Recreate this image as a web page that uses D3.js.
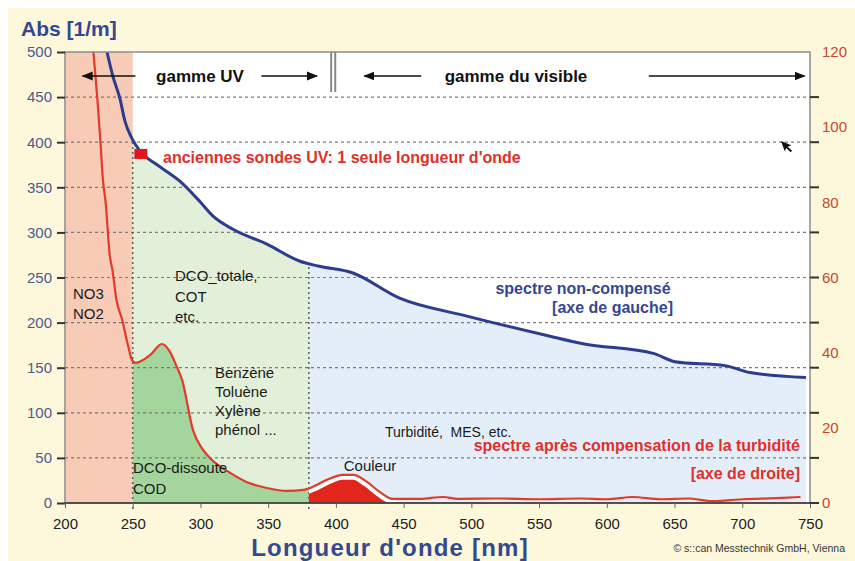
<!DOCTYPE html>
<html><head><meta charset="utf-8">
<script src="https://cdn.jsdelivr.net/npm/d3@7"></script>
<style>
html,body{margin:0;padding:0;background:#fff;}
svg{display:block;font-family:"Liberation Sans",Arial,Helvetica,sans-serif;}
</style></head>
<body>
<svg id="chart" width="855" height="561"></svg>
<script>
// ---- data ----
const xTicks = [200,250,300,350,400,450,500,550,600,650,700,750];
const leftTicks = [0,50,100,150,200,250,300,350,400,450,500];
const rightTicks = [0,20,40,60,80,100,120];
const gridValues = [50,100,150,200,250,300,350,400,450];
const zones = [200,250,380,750]; // nm boundaries: NO3 zone, DCO zone, visible zone
// uncompensated spectrum (left axis, Abs 1/m)
const blueNm  = [231,235,240.6,244.3,249.5,255.4,268,285,299.7,309.3,324,349,373.5,386.8,412.6,446.6,496,556.6,582.4,634.9,650.4,687.3,705.7,747];
const blueAbs = [500,475,448,423,404,390,375,356.5,334,318,303.5,287,268,262.7,255,227.4,207.5,185.4,176.6,165.6,156.7,152.3,144.6,139];
// compensated spectrum (right axis)
const redNm  = [221,224,226,228,230,233,235,238,242,246.5,249.5,252,263,271.5,277.5,282,286.5,294.5,301,307,322,334,349,364,376,383,393,405,413,423,432.5,442,462,479,490,520,550,580,600,619,640,660,678,700,725,743];
const redVal = [120,107,97,86,80,66,62,54,49,42,38,37.3,39.4,42.3,40.2,36.7,32.7,19.4,14.6,12,8,5.6,4,3.2,3.5,4.3,6.1,7.5,7.5,5.6,2.9,1.1,1.1,1.6,1.1,1.2,1.0,1.2,1.0,1.6,1.0,1.2,0.5,1.0,1.3,1.6];
const couleurRange = [380,445];
const oldProbe = {nm:256, abs:387};

const blue = blueNm.map((n,i)=>({nm:n,v:blueAbs[i]}));
const red = redNm.map((n,i)=>({nm:n,v:redVal[i]}));

// ---- layout ----
const svg = d3.select("#chart");
const W=855,H=561;
const L=65,R=810,T=52,B=503;
const x = d3.scaleLinear().domain([200,750]).range([L,R]);
const yL = d3.scaleLinear().domain([0,500]).range([B,T]);
const yR = d3.scaleLinear().domain([0,120]).range([B,T]);

const font = '"Liberation Sans",Arial,Helvetica,sans-serif';
// background
svg.append("rect").attr("x",0).attr("y",0).attr("width",W).attr("height",H).attr("fill","#fff");
svg.append("rect").attr("x",8).attr("y",8).attr("width",W-8).attr("height",H-8).attr("fill","#fdf8dc");
svg.append("rect").attr("x",L).attr("y",T).attr("width",R-L).attr("height",B-T).attr("fill","#fff");

const defs = svg.append("defs");
function clipX(id,a,b){
  defs.append("clipPath").attr("id",id).append("rect")
    .attr("x",x(a)).attr("y",T).attr("width",x(b)-x(a)).attr("height",B-T);
}
clipX("cPlot",200,750);
clipX("cDCO",zones[1],zones[2]);
clipX("cVis",zones[2],zones[3]);
clipX("cCol",couleurRange[0],couleurRange[1]);

defs.append("marker").attr("id","ah").attr("viewBox","0 0 10 10").attr("refX",9).attr("refY",5)
  .attr("markerWidth",7).attr("markerHeight",7).attr("orient","auto-start-reverse")
  .append("path").attr("d","M0,1 L10,5 L0,9 Z").attr("fill","#111");

const g = svg.append("g");

// pink zone
g.append("rect").attr("x",x(zones[0])).attr("y",T).attr("width",x(zones[1])-x(zones[0])).attr("height",B-T).attr("fill","#f7cbb6");

const areaBlue = d3.area().x(d=>x(d.nm)).y0(B).y1(d=>yL(d.v)).curve(d3.curveMonotoneX);
const areaRed = d3.area().x(d=>x(d.nm)).y0(B).y1(d=>yR(d.v)).curve(d3.curveMonotoneX);
const lineBlue = d3.line().x(d=>x(d.nm)).y(d=>yL(d.v)).curve(d3.curveMonotoneX);
const lineRed = d3.line().x(d=>x(d.nm)).y(d=>yR(d.v)).curve(d3.curveMonotoneX);

// clip: region under the red curve
defs.append("clipPath").attr("id","cUnder").append("path").datum(red).attr("d",areaRed);

g.append("path").datum(blue).attr("d",areaBlue).attr("fill","#e3f0d9").attr("clip-path","url(#cDCO)");
g.append("path").datum(blue).attr("d",areaBlue).attr("fill","#e4eef9").attr("clip-path","url(#cVis)");
g.append("path").datum(red).attr("d",areaRed).attr("fill","#a3d59d").attr("clip-path","url(#cDCO)");
g.append("path").datum(red).attr("d",areaRed).attr("fill","#e2261c").attr("clip-path","url(#cCol)");

// gridlines
g.selectAll(".grid").data(gridValues).enter().append("line")
  .attr("x1",L).attr("x2",R).attr("y1",d=>yL(d)).attr("y2",d=>yL(d))
  .attr("stroke","#7a7a7a").attr("stroke-width",1.2).attr("stroke-dasharray","3,3");

// vertical dotted zone boundaries up to the blue curve
const interp = (nm)=>{ const i=d3.bisector(d=>d.nm).left(blue,nm); const a=blue[i-1],b=blue[i]; return a.v+(b.v-a.v)*(nm-a.nm)/(b.nm-a.nm); };
[zones[1],zones[2]].forEach(z=>{
  g.append("line").attr("x1",x(z)).attr("x2",x(z)).attr("y1",B+6).attr("y2",yL(interp(z)))
   .attr("stroke","#666").attr("stroke-width",1.6).attr("stroke-dasharray","2,3");
});

// curves
g.append("g").attr("clip-path","url(#cCol)").append("path").datum(red).attr("d",lineRed)
  .attr("fill","none").attr("stroke","#fff").attr("stroke-width",10).attr("clip-path","url(#cUnder)");
g.append("path").datum(red).attr("d",lineRed).attr("fill","none").attr("stroke","#e23a2b").attr("stroke-width",2.2).attr("clip-path","url(#cPlot)");
g.append("path").datum(blue).attr("d",lineBlue).attr("fill","none").attr("stroke","#2c3d8e").attr("stroke-width",3).attr("clip-path","url(#cPlot)");

// old probe marker
g.append("rect").attr("x",x(oldProbe.nm)-6.5).attr("y",yL(oldProbe.abs)-5).attr("width",13).attr("height",10).attr("fill","#e2161c");

// frame
svg.append("rect").attr("x",L).attr("y",T).attr("width",R-L).attr("height",B-T).attr("fill","none").attr("stroke","#8c8c8c").attr("stroke-width",1.5);
svg.append("line").attr("x1",L).attr("x2",R).attr("y1",B).attr("y2",B).attr("stroke","#333").attr("stroke-width",1.5);

// axes
const axL = svg.append("g").attr("transform",`translate(${L},0)`)
  .call(d3.axisLeft(yL).tickValues(leftTicks).tickSize(8).tickPadding(5));
axL.select(".domain").remove();
axL.selectAll("line").attr("stroke","#333").attr("stroke-width",2);
axL.selectAll("text").attr("font-size",15).attr("fill","#4b5b8c").attr("font-family",font);

const axB = svg.append("g").attr("transform",`translate(0,${B})`)
  .call(d3.axisBottom(x).tickValues(xTicks).tickSize(5).tickPadding(10));
axB.select(".domain").remove();
axB.selectAll("line").attr("stroke","#666");
axB.selectAll("text").attr("font-size",15).attr("fill","#222").attr("font-family",font);

const axR = svg.append("g").attr("transform",`translate(${R},0)`)
  .call(d3.axisRight(yR).tickValues(rightTicks).tickSize(0).tickPadding(12));
axR.select(".domain").remove();
axR.selectAll("text").attr("font-size",15).attr("fill","#c8472c").attr("font-family",font);
svg.append("g").selectAll("line").data(leftTicks.slice(0,-1)).enter().append("line")
  .attr("x1",R).attr("x2",R+9).attr("y1",d=>yL(d)).attr("y2",d=>yL(d)).attr("stroke","#333").attr("stroke-width",2);

// titles
function txt(s,xx,yy,o){
  const t=svg.append("text").attr("x",xx).attr("y",yy).text(s).attr("font-family",font);
  Object.entries(o||{}).forEach(([k,v])=>t.attr(k,v));
  return t;
}
txt("Abs [1/m]",21,36,{"font-size":21,"font-weight":"bold","fill":"#34488f"});
txt("Longueur d'onde [nm]",390,555.5,{"font-size":24,"font-weight":"bold","fill":"#34488f","text-anchor":"middle","letter-spacing":1.2});
txt("© s::can Messtechnik GmbH, Vienna",845,552,{"font-size":10.5,"fill":"#333","text-anchor":"end"});

// range arrows
txt("gamme UV",200,82,{"font-size":17,"font-weight":"bold","fill":"#111","text-anchor":"middle"});
txt("gamme du visible",516,82,{"font-size":17,"font-weight":"bold","fill":"#111","text-anchor":"middle"});
function arrow(x1,x2,yy){
  svg.append("line").attr("x1",x1).attr("x2",x2).attr("y1",yy).attr("y2",yy)
    .attr("stroke","#111").attr("stroke-width",1.6).attr("marker-end","url(#ah)");
}
arrow(x(252),x(213),76);
arrow(x(345),x(386),76);
arrow(x(463),x(421),76);
arrow(x(631),x(746),76);
[x(396.5),x(399.5)].forEach(xx=>svg.append("line").attr("x1",xx).attr("x2",xx).attr("y1",T).attr("y2",92).attr("stroke","#888").attr("stroke-width",2));

// annotations
txt("anciennes sondes UV: 1 seule longueur d'onde",163,163,{"font-size":16,"font-weight":"bold","fill":"#e0302a"});
txt("spectre non-compensé",583,294,{"font-size":16,"font-weight":"bold","fill":"#34488f","text-anchor":"middle"});
txt("[axe de gauche]",673,313,{"font-size":16,"font-weight":"bold","fill":"#34488f","text-anchor":"end"});
txt("spectre après compensation de la turbidité",800,451,{"font-size":16,"font-weight":"bold","fill":"#e0302a","text-anchor":"end"});
txt("[axe de droite]",800,479,{"font-size":16,"font-weight":"bold","fill":"#e0302a","text-anchor":"end"});
txt("Turbidité,  MES, etc.",385,437,{"font-size":14,"fill":"#1a1a1a"}).style("white-space","pre");
txt("Couleur",370,471,{"font-size":15,"fill":"#1a1a1a","text-anchor":"middle"});
const multi=(lines,xx,y0,dy)=>lines.forEach((s,i)=>txt(s,xx,y0+i*dy,{"font-size":15,"fill":"#1a1a1a"}));
multi(["DCO-dissoute","COD"],133,473,21);
multi(["Benzène","Toluène","Xylène","phénol ..."],215,378,19);
multi(["DCO_totale,","COT","etc."],175,281,20.5);
multi(["NO3","NO2"],73,299,20);

// cursor
svg.append("path").attr("d","M781,141 l0,11 l2.6,-2.6 l2.6,5.5 l1.8,-0.9 l-2.6,-5.4 l3.7,0 Z").attr("fill","#111").attr("transform","rotate(-20,781,141)");
</script>
</body></html>
